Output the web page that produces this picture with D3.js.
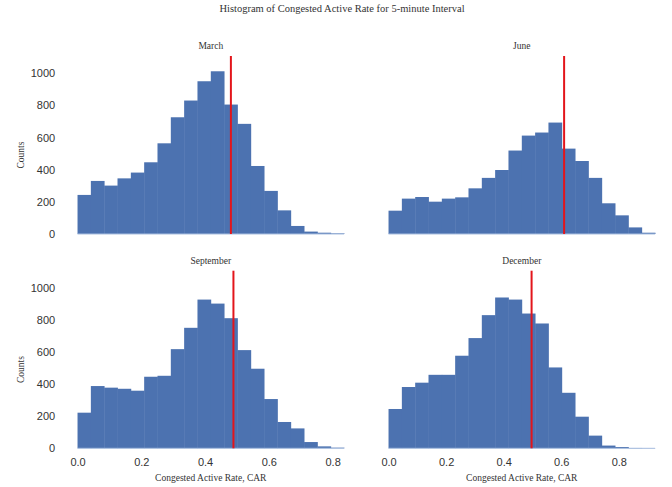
<!DOCTYPE html>
<html>
<head>
<meta charset="utf-8">
<script src="https://cdn.jsdelivr.net/npm/d3@7"></script>
<style>
  body { margin: 0; background: #fff; }
  svg text { fill: #333; }
</style>
</head>
<body>
<div id="chart"></div>
<script>
// histogram counts per bin (20 equal bins from 0 to binMax)
var months = ["March", "June", "September", "December"];
var marchCounts = [243, 330, 301, 346, 382, 446, 564, 726, 830, 950, 1012, 805, 685, 423, 268, 147, 50, 15, 8, 4];
var juneCounts = [145, 220, 230, 201, 220, 228, 284, 349, 398, 519, 612, 631, 693, 531, 454, 349, 191, 116, 41, 8];
var septemberCounts = [222, 388, 378, 371, 359, 446, 452, 618, 751, 927, 902, 811, 612, 496, 307, 164, 124, 39, 12, 4];
var decemberCounts = [245, 382, 409, 458, 458, 577, 687, 830, 940, 927, 840, 778, 504, 346, 197, 79, 17, 8, 2, 1];
var binMax = [0.836, 0.926, 0.836, 0.926];
var meanCAR = [0.481, 0.610, 0.489, 0.497];
var xTicks = [0.0, 0.2, 0.4, 0.6, 0.8];
var yTicks = [0, 200, 400, 600, 800, 1000];
var yMax = 1107;

var allCounts = [marchCounts, juneCounts, septemberCounts, decemberCounts];

var width = 672, height = 487;
var svg = d3.select("#chart").append("svg")
  .attr("width", width)
  .attr("height", height);

// panel boxes: [left, right] and [bottom, top]
var colX = [[64.2, 357.4], [375.2, 668.4]];
var rowY = [[234, 56], [448.3, 270.7]];

svg.append("text")
  .attr("x", 342)
  .attr("y", 12)
  .attr("text-anchor", "middle")
  .attr("font-family", "Liberation Serif, Times New Roman, serif")
  .attr("font-size", "10.5px")
  .text("Histogram of Congested Active Rate for 5-minute Interval");

months.forEach(function(month, i) {
  var col = i % 2, row = Math.floor(i / 2);
  var counts = allCounts[i];
  var n = counts.length;
  var pad = binMax[i] * 0.05;

  var x = d3.scaleLinear()
    .domain([-pad, binMax[i] + pad])
    .range(colX[col]);
  var y = d3.scaleLinear()
    .domain([0, yMax])
    .range(rowY[row]);

  var bins = counts.map(function(c, k) {
    return {x0: binMax[i] * k / n, x1: binMax[i] * (k + 1) / n, count: c};
  });

  var g = svg.append("g");

  g.selectAll("rect")
    .data(bins)
    .enter()
    .append("rect")
    .attr("x", d => x(d.x0))
    .attr("y", d => y(d.count))
    .attr("width", d => x(d.x1) - x(d.x0) + 0.4)
    .attr("height", d => y(0) - y(d.count))
    .style("fill", "#4C72B0");

  // thin baseline along the bins
  g.append("line")
    .attr("x1", x(0)).attr("x2", x(binMax[i]))
    .attr("y1", y(0)).attr("y2", y(0))
    .style("stroke", "#a9bfe0")
    .style("stroke-width", 1);

  g.append("line")
    .attr("x1", x(meanCAR[i])).attr("x2", x(meanCAR[i]))
    .attr("y1", y(0)).attr("y2", y(yMax))
    .style("stroke", "#e3151b")
    .style("stroke-width", 2);

  g.append("text")
    .attr("x", (colX[col][0] + colX[col][1]) / 2)
    .attr("y", rowY[row][1] - 7)
    .attr("text-anchor", "middle")
    .attr("font-family", "Liberation Serif, Times New Roman, serif")
    .attr("font-size", "9.5px")
    .text(month);

  if (col === 0) {
    var yAxis = g.append("g")
      .attr("transform", "translate(" + colX[col][0] + ",0)")
      .call(d3.axisLeft(y).tickValues(yTicks).tickFormat(d3.format("d")).tickSize(0).tickPadding(9));
    yAxis.select(".domain").remove();
    yAxis.selectAll("text")
      .attr("font-family", "Liberation Sans, Arial, sans-serif")
      .attr("font-size", "11px")
      .style("fill", "#333");

    g.append("text")
      .attr("transform", "translate(21," + ((rowY[row][0] + rowY[row][1]) / 2 + 10) + ") rotate(-90)")
      .attr("text-anchor", "middle")
      .attr("dy", "0.35em")
      .attr("font-family", "Liberation Serif, Times New Roman, serif")
      .attr("font-size", "9.5px")
      .text("Counts");
  }

  if (row === 1) {
    var xAxis = g.append("g")
      .attr("transform", "translate(0," + rowY[row][0] + ")")
      .call(d3.axisBottom(x).tickValues(xTicks).tickFormat(d3.format(".1f")).tickSize(0).tickPadding(9.5));
    xAxis.select(".domain").remove();
    xAxis.selectAll("text")
      .attr("font-family", "Liberation Sans, Arial, sans-serif")
      .attr("font-size", "11px")
      .style("fill", "#333");

    g.append("text")
      .attr("x", (colX[col][0] + colX[col][1]) / 2)
      .attr("y", 481)
      .attr("text-anchor", "middle")
      .attr("font-family", "Liberation Serif, Times New Roman, serif")
      .attr("font-size", "9.5px")
      .text("Congested Active Rate, CAR");
  }
});
</script>
</body>
</html>
